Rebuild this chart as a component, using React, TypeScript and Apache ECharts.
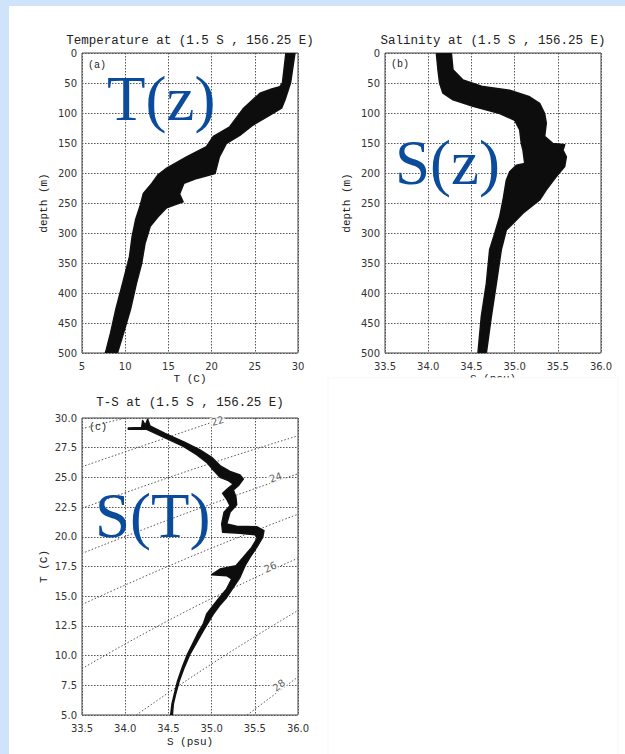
import React, { useEffect, useRef } from 'react';
import * as echarts from 'echarts';

// ---------- data ----------
const panelTitles = [
  'Temperature at (1.5 S , 156.25 E)',
  'Salinity at (1.5 S , 156.25 E)',
  'T-S at (1.5 S , 156.25 E)',
];
const panelLetters = ['(a)', '(b)', '(c)'];
const overlayTexts = ['T(z)', 'S(z)', 'S(T)'];

// Panel (a): temperature profile bundle, [T (C), depth (m)]
const tzCoolEdge: number[][] = [
  [28.6, 0], [28.2, 50], [27.9, 56], [26.95, 60], [25.6, 67], [23.7, 92], [22.1, 123],
  [20.2, 139], [19.4, 156], [17.1, 173], [14.8, 192], [13.8, 203], [13.1, 217],
  [12.1, 234], [11.7, 256], [11.2, 278], [10.8, 306], [10.5, 339], [9.7, 384],
  [8.9, 428], [8.3, 467], [7.8, 495], [7.7, 500],
];
const tzWarmEdge: number[][] = [
  [29.65, 0], [29.15, 49], [28.5, 78], [28.1, 92], [26.8, 103], [24.8, 120], [23.3, 137],
  [21.7, 151], [20.9, 173], [20.4, 201], [18.3, 209], [16.8, 217], [16.3, 235],
  [16.7, 248], [14.8, 258], [13.8, 273], [12.9, 289], [12.3, 317], [11.9, 351],
  [11.3, 384], [10.6, 428], [9.8, 467], [9.1, 500],
];

// Panel (b): salinity profile bundle, [S (psu), depth (m)]
const szFreshEdge: number[][] = [
  [34.094, 0], [34.113, 28], [34.133, 51], [34.171, 67], [34.287, 78], [34.519, 89],
  [34.827, 101], [35.001, 112], [35.059, 128], [35.078, 151], [35.097, 162],
  [35.117, 184], [35.02, 187], [34.943, 198], [34.904, 212], [34.866, 245],
  [34.827, 273], [34.769, 301], [34.711, 328], [34.673, 384], [34.615, 439], [34.576, 500],
];
const szSaltyEdge: number[][] = [
  [34.268, 0], [34.287, 28], [34.403, 45], [34.634, 56], [34.943, 62], [35.174, 73],
  [35.29, 84], [35.348, 101], [35.367, 117], [35.348, 139], [35.444, 151], [35.58, 153],
  [35.56, 162], [35.599, 173], [35.58, 189], [35.483, 206], [35.367, 228], [35.29, 245],
  [35.097, 267], [34.981, 284], [34.904, 295], [34.846, 328], [34.789, 384],
  [34.731, 439], [34.673, 500],
];

// Panel (c): T-S curve bundle, [S (psu), T (C)]
const tsUpperEdge: number[][] = [
  [34.036, 29.16], [34.19, 29.2], [34.202, 29.78], [34.233, 29.38], [34.26, 29.89],
  [34.287, 29.33], [34.461, 28.71], [34.692, 27.95], [34.866, 27.31], [35.001, 26.69],
  [35.097, 25.99], [35.213, 25.51], [35.329, 25.2], [35.367, 24.87], [35.309, 24.3],
  [35.252, 23.94], [35.282, 23.32], [35.29, 22.7], [35.213, 22.06], [35.174, 21.08],
  [35.29, 20.88], [35.522, 20.85], [35.606, 20.52], [35.591, 19.96], [35.522, 19.11],
  [35.444, 18.27], [35.387, 17.57], [35.329, 16.59], [35.252, 15.75], [35.174, 14.9],
  [35.09, 14.2], [35.02, 13.5], [34.962, 12.8], [34.904, 12.1], [34.827, 11.12],
  [34.75, 10.13], [34.684, 9.01], [34.627, 7.89], [34.584, 6.77], [34.557, 5.93], [34.546, 5.0],
];
const tsLowerEdge: number[][] = [
  [34.036, 29.05], [34.248, 29.05], [34.449, 28.37], [34.673, 27.62], [34.827, 26.91],
  [34.943, 26.27], [35.02, 25.62], [35.097, 25.01], [35.194, 24.73], [35.252, 24.44],
  [35.194, 24.11], [35.128, 23.66], [35.174, 23.18], [35.213, 22.62], [35.144, 22.06],
  [35.117, 21.08], [35.128, 20.38], [35.329, 20.29], [35.502, 20.18], [35.529, 19.9],
  [35.464, 19.11], [35.367, 18.27], [35.282, 17.57], [35.097, 17.29], [35.001, 16.81],
  [35.174, 16.73], [35.232, 16.45], [35.174, 15.61], [35.078, 14.76], [35.001, 14.06],
  [34.943, 13.5], [34.904, 12.66], [34.846, 11.96], [34.781, 10.98], [34.719, 10.08],
  [34.661, 9.01], [34.607, 7.89], [34.569, 6.77], [34.542, 5.93], [34.526, 5.0],
];

// Isopycnals (sigma-t), [S, T]
const sigma21 = [[33.5, 29.1], [34.0, 30]];
const sigma22 = [[33.5, 25.9], [34.3, 27.9], [35.15, 30]];
const sigma23 = [[33.5, 22.4], [34.75, 25.6], [36, 28.5]];
const sigma24 = [[33.5, 18.6], [34.75, 22.1], [36, 25.3]];
const sigma25 = [[33.5, 14.3], [34.75, 18.3], [36, 21.9]];
const sigma26 = [[33.5, 8.9], [34.75, 13.9], [36, 18.2]];
const sigma27 = [[34.13, 5], [35.0, 9.3], [36, 13.8]];
const sigma28 = [[35.41, 5], [36, 8.2]];
const isopycnals = [sigma21, sigma22, sigma23, sigma24, sigma25, sigma26, sigma27, sigma28];
const isoLabelText = ['22', '24', '26', '28'];
const isoLabelS = [35.07, 35.74, 35.68, 35.78];
const isoLabelT = [29.75, 25.0, 17.45, 7.5];
const isoLabelRot = [16, 19, 25, 37];

// Axis ranges / ticks
const tempAxis = { min: 5, max: 30, interval: 5 };
const depthAxis = { min: 0, max: 500, interval: 50 };
const salAxis = { min: 33.5, max: 36, interval: 0.5 };
const tsTempAxis = { min: 5, max: 30, interval: 2.5 };

// ---------- styling ----------
const MONO = '"Liberation Mono", "DejaVu Sans Mono", monospace';
const SANS = '"DejaVu Sans", sans-serif';
const SERIF = '"Liberation Serif", "Times New Roman", serif';
const BLUE = '#0b4b9b';

const gridLine = { show: true, lineStyle: { type: [1.5, 1.5] as any, color: '#555', width: 1 } };
const labelStyle = { fontFamily: SANS, fontSize: 10, color: '#333' };
const nameStyle = { fontFamily: MONO, fontSize: 11, color: '#222' };

function xAxisOf(idx: number, range: any, name: string, dec: number, gap: number) {
  return {
    type: 'value', gridIndex: idx, ...range,
    name, nameLocation: 'middle', nameGap: gap, nameTextStyle: nameStyle,
    axisLine: { show: false }, axisTick: { show: false },
    axisLabel: { ...labelStyle, margin: 8, formatter: (v: number) => v.toFixed(dec) },
    splitLine: gridLine,
  };
}
function yAxisOf(idx: number, range: any, name: string, dec: number, inverse: boolean) {
  return {
    type: 'value', gridIndex: idx, ...range, inverse,
    name, nameLocation: 'middle', nameGap: 33, nameTextStyle: nameStyle,
    axisLine: { show: false }, axisTick: { show: false },
    axisLabel: { ...labelStyle, margin: 5, formatter: (v: number) => v.toFixed(dec) },
    splitLine: gridLine,
  };
}

function bandSeries(idx: number, edgeA: number[][], edgeB: number[][]) {
  const ring = edgeA.concat(edgeB.slice().reverse());
  return {
    type: 'custom', coordinateSystem: 'cartesian2d',
    xAxisIndex: idx, yAxisIndex: idx, silent: true, z: 5, clip: true,
    data: [ring[0]],
    renderItem: (_p: any, api: any) => ({
      type: 'polygon',
      shape: { points: ring.map((p) => api.coord(p)) },
      style: { fill: '#0d0d0d', stroke: '#111', lineWidth: 1.5, lineJoin: 'round' },
    }),
  };
}

function buildOption() {
  const series: any[] = [
    bandSeries(0, tzCoolEdge, tzWarmEdge),
    bandSeries(1, szFreshEdge, szSaltyEdge),
  ];
  isopycnals.forEach((line) => {
    series.push({
      type: 'line', xAxisIndex: 2, yAxisIndex: 2, data: line, smooth: true,
      symbol: 'none', silent: true, z: 2,
      lineStyle: { type: [1.5, 2] as any, color: '#555', width: 1 },
    });
  });
  series.push({
    type: 'scatter', xAxisIndex: 2, yAxisIndex: 2, symbolSize: 0, silent: true, z: 3,
    data: isoLabelText.map((t, i) => ({
      value: [isoLabelS[i], isoLabelT[i]],
      label: {
        show: true, position: 'inside', formatter: t, rotate: isoLabelRot[i],
        fontFamily: SANS, fontSize: 10, color: '#333', backgroundColor: '#fff', padding: [0, 1],
      },
    })),
  });
  series.push(bandSeries(2, tsUpperEdge, tsLowerEdge));

  const text = (x: number, y: number, t: string, font: any, align = 'center', z = 50) => ({
    type: 'text', x, y, z, silent: true,
    style: { text: t, align, verticalAlign: 'middle', fill: font.fill || '#222', fontFamily: font.family, fontSize: font.size },
  });

  const graphic: any[] = [
    text(190, 41, panelTitles[0], { family: MONO, size: 12.5 }),
    text(493, 41, panelTitles[1], { family: MONO, size: 12.5 }),
    text(190, 403, panelTitles[2], { family: MONO, size: 12.5 }),
    text(97, 65, panelLetters[0], { family: MONO, size: 10 }),
    text(400, 64, panelLetters[1], { family: MONO, size: 10 }),
    text(98, 427, panelLetters[2], { family: MONO, size: 10 }),
    {
      type: 'rect', z: 60, silent: true,
      shape: { x: 328, y: 378, width: 290, height: 380 },
      style: { fill: '#fff', stroke: '#f7f7f7', lineWidth: 1 },
    },
    text(107, 99, overlayTexts[0], { family: SERIF, size: 63, fill: BLUE }, 'left', 100),
    text(395, 163, overlayTexts[1], { family: SERIF, size: 63, fill: BLUE }, 'left', 100),
    text(95, 516, overlayTexts[2], { family: SERIF, size: 63, fill: BLUE }, 'left', 100),
  ];

  const gridBase = { show: true, borderColor: '#444', borderWidth: 1, backgroundColor: 'transparent', containLabel: false };

  return {
    animation: false,
    backgroundColor: 'transparent',
    grid: [
      { ...gridBase, left: 82, top: 53, width: 216, height: 300 },
      { ...gridBase, left: 385, top: 53, width: 216, height: 300 },
      { ...gridBase, left: 82, top: 418, width: 216, height: 297 },
    ],
    xAxis: [
      xAxisOf(0, tempAxis, 'T (C)', 0, 20),
      xAxisOf(1, salAxis, 'S (psu)', 1, 20),
      xAxisOf(2, salAxis, 'S (psu)', 1, 21),
    ],
    yAxis: [
      yAxisOf(0, depthAxis, 'depth (m)', 0, true),
      yAxisOf(1, depthAxis, 'depth (m)', 0, true),
      yAxisOf(2, tsTempAxis, 'T (C)', 1, false),
    ],
    series,
    graphic,
  };
}

export default function App() {
  const ref = useRef<HTMLDivElement>(null);
  useEffect(() => {
    if (!ref.current) return;
    const chart = echarts.init(ref.current, null, { renderer: 'svg', width: 625, height: 754 });
    chart.setOption(buildOption() as any);
    return () => chart.dispose();
  }, []);
  return (
    <div style={{ position: 'fixed', left: 0, top: 0, width: 625, height: 754, background: '#cfe4fa', overflow: 'hidden' }}>
      <div style={{ position: 'absolute', left: 9, top: 6, width: 616, height: 748, background: '#ffffff' }} />
      <div ref={ref} style={{ position: 'absolute', left: 0, top: 0, width: 625, height: 754 }} />
    </div>
  );
}
